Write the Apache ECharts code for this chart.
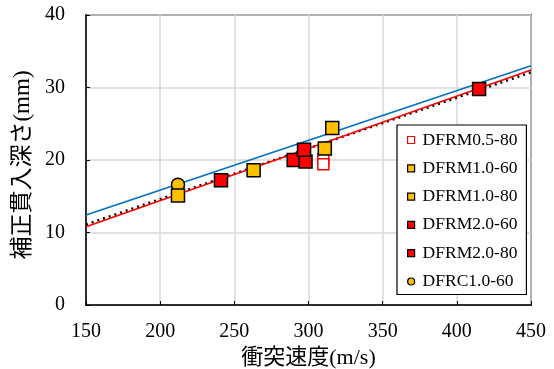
<!DOCTYPE html>
<html>
<head>
<meta charset="utf-8">
<script src="https://cdn.jsdelivr.net/npm/echarts@6/dist/echarts.min.js"></script>
<style>
  html, body { margin: 0; padding: 0; background: #fff; }
  #chart { width: 554px; height: 369px; }
</style>
</head>
<body>
<div id="chart"></div>
<script>
// Corrected penetration depth vs. impact velocity
const seriesNames = ['DFRM0.5-80', 'DFRM1.0-60', 'DFRM1.0-80', 'DFRM2.0-60', 'DFRM2.0-80', 'DFRC1.0-60'];

// [impact velocity (m/s), corrected depth (mm)]
const dfrm05_80 = [[310, 20.1], [310, 19.4]];
const dfrm10_60 = [[212, 15.1], [263, 18.6]];
const dfrm10_80 = [[311, 21.6], [316, 24.4]];
const dfrm20_60 = [[241, 17.2], [290, 20.0], [298, 19.8]];
const dfrm20_80 = [[297, 21.4], [415, 29.8]];
const dfrc10_60 = [[212, 16.6]];

// Fitted lines evaluated at the ends of the velocity range
const fitX = [150, 450];
const fitBlue = [12.4, 33.0];
const fitRed = [10.8, 32.4];
const fitDotted = [11.1, 32.1];

const xTicks = [150, 200, 250, 300, 350, 400, 450];
const yTicks = [0, 10, 20, 30, 40];

const serif = '"Liberation Serif", "Times New Roman", "Noto Sans CJK JP", serif';
const ORANGE = '#FFC000';
const RED = '#FF0000';
const BLUE = '#0070C0';

const pairs = (xs, ys) => xs.map((x, i) => [x, ys[i]]);

const markerStyles = {
  'DFRM0.5-80': { symbol: 'rect', size: 11, color: '#ffffff', border: RED },
  'DFRM1.0-60': { symbol: 'rect', size: 13, color: ORANGE, border: '#000' },
  'DFRM1.0-80': { symbol: 'rect', size: 13, color: ORANGE, border: '#000' },
  'DFRM2.0-60': { symbol: 'rect', size: 13, color: RED, border: '#000' },
  'DFRM2.0-80': { symbol: 'rect', size: 13, color: RED, border: '#000' },
  'DFRC1.0-60': { symbol: 'circle', size: 13, color: ORANGE, border: '#000' }
};
const pointData = [dfrm05_80, dfrm10_60, dfrm10_80, dfrm20_60, dfrm20_80, dfrc10_60];

const scatterSeries = seriesNames.map((name, i) => {
  const m = markerStyles[name];
  return {
    name: name,
    type: 'scatter',
    data: pointData[i],
    symbol: m.symbol,
    symbolSize: m.size,
    z: name === 'DFRC1.0-60' ? 3 : 4,
    itemStyle: { color: m.color, borderColor: m.border, borderWidth: 1.5, opacity: 1 },
    emphasis: { disabled: true }
  };
});

const lineSeries = [
  { data: pairs(fitX, fitDotted), color: '#000', width: 2.5, type: [2, 4] },
  { data: pairs(fitX, fitRed), color: RED, width: 1.6, type: 'solid' },
  { data: pairs(fitX, fitBlue), color: BLUE, width: 1.6, type: 'solid' }
].map(l => ({
  type: 'line',
  data: l.data,
  symbol: 'none',
  z: 2,
  silent: true,
  lineStyle: { color: l.color, width: l.width, type: l.type }
}));

const chart = echarts.init(document.getElementById('chart'), null, { renderer: 'canvas' });
chart.setOption({
  animation: false,
  backgroundColor: '#fff',
  grid: {
    left: 86, right: 23, top: 15, bottom: 64,
    outerBoundsMode: 'none',
    containLabel: false,
    show: true, borderColor: '#000', borderWidth: 1.5, backgroundColor: 'transparent'
  },
  xAxis: {
    type: 'value',
    min: xTicks[0], max: xTicks[xTicks.length - 1], interval: 50,
    name: '衝突速度(m/s)',
    nameLocation: 'middle',
    nameGap: 42,
    nameTextStyle: { fontFamily: serif, fontSize: 22, color: '#000' },
    axisLine: { show: true, lineStyle: { color: '#000', width: 1.5 } },
    axisTick: { show: true, inside: true, length: 4, lineStyle: { color: '#000', width: 1 } },
    axisLabel: { margin: 17, fontFamily: serif, fontSize: 20, color: '#000' },
    splitLine: { show: true, lineStyle: { color: '#d9d9d9', width: 1.5 } }
  },
  yAxis: {
    type: 'value',
    min: yTicks[0], max: yTicks[yTicks.length - 1], interval: 10,
    name: '補正貫入深さ(mm)',
    nameLocation: 'middle',
    nameGap: 48,
    nameTextStyle: { fontFamily: serif, fontSize: 23, color: '#000', padding: [0, 10, 0, 0] },
    axisLine: { show: true, lineStyle: { color: '#000', width: 1.5 } },
    axisTick: { show: true, inside: true, length: 4, lineStyle: { color: '#000', width: 1 } },
    axisLabel: { margin: 21, fontFamily: serif, fontSize: 20, color: '#000' },
    splitLine: { show: true, lineStyle: { color: '#d9d9d9', width: 1.5 } }
  },
  legend: {
    orient: 'vertical',
    left: 397, top: 125,
    width: 129,
    padding: [5, 9, 3, 10],
    backgroundColor: '#fff',
    borderColor: '#000',
    borderWidth: 1.2,
    borderRadius: 0,
    itemWidth: 7, itemHeight: 7,
    itemGap: 8.3,
    selectedMode: false,
    z: 10,
    textStyle: { fontFamily: serif, fontSize: 17.5, color: '#000', lineHeight: 20, padding: [0, 0, 0, 3] },
    data: seriesNames.map(name => {
      const m = markerStyles[name];
      return {
        name: name,
        icon: m.symbol,
        itemStyle: { color: m.color, borderColor: m.border, borderWidth: 1.2 }
      };
    })
  },
  series: [...lineSeries, ...scatterSeries]
});
</script>
</body>
</html>
